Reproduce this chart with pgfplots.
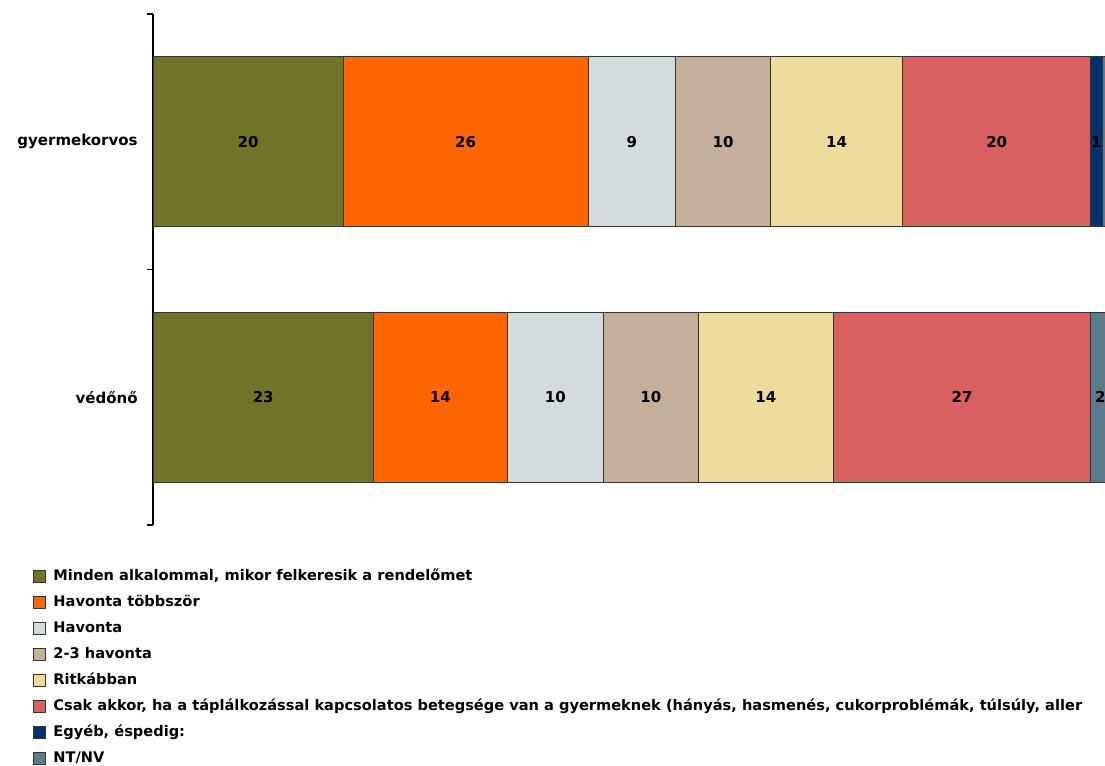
\documentclass[border=0pt]{standalone}
\usepackage{fontspec}
\setmainfont{DejaVu Sans}
\usepackage{pgfplots}
\usepackage{pgfplotstable}
\pgfplotsset{compat=1.18}

\definecolor{c1}{RGB}{114,116,40}
\definecolor{c2}{RGB}{255,102,0}
\definecolor{c3}{RGB}{211,220,220}
\definecolor{c4}{RGB}{196,176,154}
\definecolor{c5}{RGB}{239,219,156}
\definecolor{c6}{RGB}{217,96,96}
\definecolor{c7}{RGB}{0,51,110}
\definecolor{c8}{RGB}{90,125,140}

% pos: 0 = védőnő, 1 = gyermekorvos
\pgfplotstableread{
pos val lab
0 23.2 23
1 20.0 20
}\minden
\pgfplotstableread{
pos val lab
0 14.1 14
1 25.8 26
}\tobbszor
\pgfplotstableread{
pos val lab
0 10.1 10
1 9.2 9
}\havonta
\pgfplotstableread{
pos val lab
0 10.0 10
1 10.0 10
}\kettoharom
\pgfplotstableread{
pos val lab
0 14.2 14
1 13.9 14
}\ritkabban
\pgfplotstableread{
pos val lab
0 27.1 27
1 19.8 20
}\csak
\pgfplotstableread{
pos val lab
0 0.0 {}
1 1.2 1
}\egyeb
\pgfplotstableread{
pos val lab
0 2.0 2
1 0.8 {}
}\ntnv

\newcommand{\lblfont}{\bfseries\fontsize{7.5}{9}\selectfont}
\newcommand{\legfont}{\bfseries\fontsize{7.3}{9}\selectfont}

\begin{document}
\begin{tikzpicture}
\begin{axis}[
  name=ax,
  scale only axis,
  width=476pt, height=255.5pt,
  clip=false,
  xbar stacked,
  bar width=85pt,
  xmin=0, xmax=100.2,
  ymin=-0.5, ymax=1.5,
  axis x line=none,
  axis y line*=left,
  axis line style={line width=0.6pt, black},
  ytick={0,1},
  yticklabels={védőnő, gyermekorvos},
  major tick length=0pt,
  extra y ticks={-0.5,0.5,1.5},
  extra y tick labels={},
  extra y tick style={major tick length=3pt, tick align=outside, tick style={line width=0.6pt, black}},
  yticklabel style={font=\lblfont, inner sep=0pt, xshift=-7.5pt},
  point meta=explicit symbolic,
  nodes near coords,
  every node near coord/.append style={font=\lblfont, text=black, anchor=center},
  every axis plot/.append style={draw=black!80, line width=0.5pt},
  legend image code/.code={\draw[#1, line width=0.5pt] (0pt,-3pt) rectangle (6pt,3pt);},
  legend cell align=left,
  legend style={at={(axis description cs:-0.126,-0.085)}, anchor=north west,
    draw=none, fill=none, inner sep=0pt, font=\legfont, row sep=5.5pt,
    /tikz/every odd column/.append style={column sep=3.5pt},
    nodes={inner sep=0pt, text height=6pt, text depth=1.5pt}},
]
\addplot[fill=c1] table[x=val, y=pos, meta=lab] {\minden};
\addlegendentry{Minden alkalommal, mikor felkeresik a rendelőmet}
\addplot[fill=c2] table[x=val, y=pos, meta=lab] {\tobbszor};
\addlegendentry{Havonta többször}
\addplot[fill=c3] table[x=val, y=pos, meta=lab] {\havonta};
\addlegendentry{Havonta}
\addplot[fill=c4] table[x=val, y=pos, meta=lab] {\kettoharom};
\addlegendentry{2-3 havonta}
\addplot[fill=c5] table[x=val, y=pos, meta=lab] {\ritkabban};
\addlegendentry{Ritkábban}
\addplot[fill=c6] table[x=val, y=pos, meta=lab] {\csak};
\addlegendentry{Csak akkor, ha a táplálkozással kapcsolatos betegsége van a gyermeknek (hányás, hasmenés, cukorproblémák, túlsúly, aller}
\addplot[fill=c7] table[x=val, y=pos, meta=lab] {\egyeb};
\addlegendentry{Egyéb, éspedig:}
\addplot[fill=c8] table[x=val, y=pos, meta=lab] {\ntnv};
\addlegendentry{NT/NV}
\end{axis}
\pgfresetboundingbox
\path[use as bounding box] ([shift={(-76.5pt,-120pt)}]ax.south west) rectangle ([shift={(0pt,7pt)}]ax.north east);
\end{tikzpicture}
\end{document}
